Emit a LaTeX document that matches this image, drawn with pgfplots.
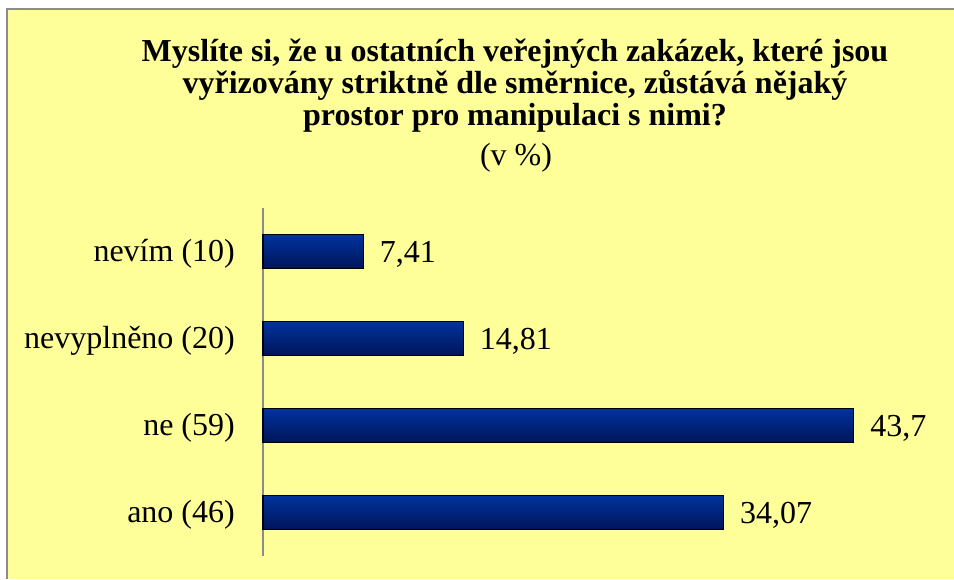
\documentclass[border=0pt]{standalone}
\usepackage{pgfplots}
\pgfplotsset{compat=1.18}
\usepackage{fontspec}
\setmainfont{Liberation Serif}
\definecolor{bgyel}{HTML}{FFFF99}
\definecolor{bord}{HTML}{8C8C8C}
\definecolor{barTop}{HTML}{00339C}
\definecolor{barBot}{HTML}{00145A}
\begin{document}
\begin{tikzpicture}[x=1pt,y=1pt]
\useasboundingbox (0,0) rectangle (954,579);
\fill[bgyel] (7,0) rectangle (954,570);
\draw[bord, line width=2pt] (7,0) -- (7,570) -- (954,570);
\node[font=\fontsize{32}{32}\selectfont\bfseries, anchor=base] at (515,517) {Myslíte si, že u ostatních veřejných zakázek, které jsou};
\node[font=\fontsize{32}{32}\selectfont\bfseries, anchor=base] at (515,485) {vyřizovány striktně dle směrnice, zůstává nějaký};
\node[font=\fontsize{32}{32}\selectfont\bfseries, anchor=base] at (515,453) {prostor pro manipulaci s nimi?};
\node[font=\fontsize{32}{32}\selectfont, anchor=base] at (516,413) {(v \%)};
\begin{axis}[
  at={(263pt,23pt)}, anchor=south west,
  scale only axis, width=676pt, height=348pt,
  xmin=0, xmax=50, ymin=-0.5, ymax=3.5,
  axis x line=none,
  axis y line*=left,
  y axis line style={bord, line width=1.5pt, -},
  ytick={0,1,2,3},
  yticklabels={ano (46), ne (59), nevyplněno (20), nevím (10)},
  major tick length=0pt,
  yticklabel style={font=\fontsize{32}{32}\selectfont, anchor=base east, inner sep=0pt, xshift=-28pt, yshift=-10pt},
  xbar, bar width=34pt, bar shift=0pt,
  point meta=explicit symbolic,
  nodes near coords,
  every node near coord/.append style={font=\fontsize{32}{32}\selectfont, text=black, anchor=base west, inner sep=0pt, xshift=16pt, yshift=-11pt},
  mybar/.style={draw=black, line width=1.2pt, top color=barTop, bottom color=barBot},
  clip=false,
]
\addplot[mybar] table[x=v, y=y, meta=lab] {
y v lab
0 34.07 34,07
};
\addplot[mybar] table[x=v, y=y, meta=lab] {
y v lab
1 43.7 43,7
};
\addplot[mybar] table[x=v, y=y, meta=lab] {
y v lab
2 14.81 14,81
};
\addplot[mybar] table[x=v, y=y, meta=lab] {
y v lab
3 7.41 7,41
};
\end{axis}
\end{tikzpicture}
\end{document}
